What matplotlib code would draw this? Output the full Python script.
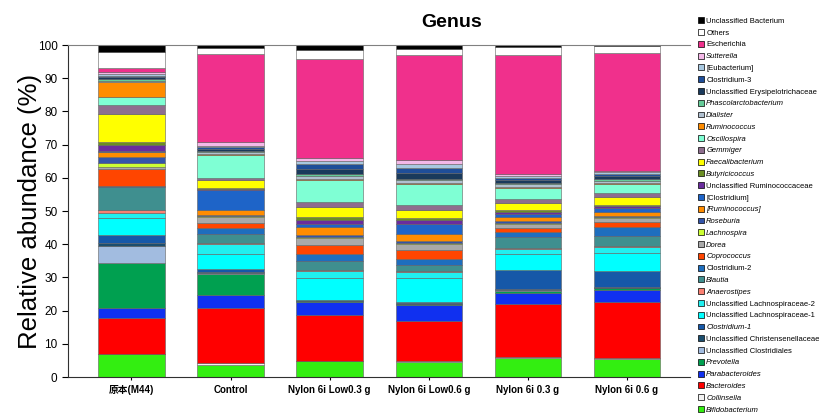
import numpy as np
import matplotlib.pyplot as plt
from matplotlib.patches import Patch

# Genres, du bas de la barre vers le haut
genres = ["Bifidobacterium", "Collinsella", "Bacteroides", "Parabacteroides", "Prevotella",
          "Unclassified Clostridiales", "Unclassified Christensenellaceae", "Clostridium-1",
          "Unclassified Lachnospiraceae-1", "Unclassified Lachnospiraceae-2", "Anaerostipes",
          "Blautia", "Clostridium-2", "Coprococcus", "Dorea", "Lachnospira", "Roseburia",
          "[Ruminococcus]", "[Clostridium]", "Unclassified Ruminococcaceae", "Butyricicoccus",
          "Faecalibacterium", "Gemmiger", "Oscillospira", "Ruminococcus", "Dialister",
          "Phascolarctobacterium", "Unclassified Erysipelotrichaceae", "Clostridium-3",
          "[Eubacterium]", "Sutterella", "Escherichia", "Others", "Unclassified Bacterium"]

couleurs = ["#33ee11", "#f2f2f2", "#ff0000", "#1030f0", "#00a050",
            "#a2bce0", "#1c4e6e", "#1658a8",
            "#00ffff", "#20f0f0", "#fa8072",
            "#3f8f8f", "#1e6ebe", "#ff4500", "#a9a9a9", "#ccff33", "#3355aa",
            "#ff8c00", "#1e64c8", "#6a2c9e", "#6b8e23",
            "#ffff00", "#8e6e8e", "#7fffd4", "#ff8c00", "#b0c0d0",
            "#66cc99", "#1a3a5c", "#1f4e99",
            "#a8c8e0", "#f4b8e8", "#f0308c", "#ffffff", "#000000"]

italiques = ["Bifidobacterium", "Collinsella", "Bacteroides", "Parabacteroides", "Prevotella",
             "Clostridium-1", "Anaerostipes", "Blautia", "Coprococcus", "Dorea", "Lachnospira",
             "Roseburia", "[Ruminococcus]", "Butyricicoccus", "Faecalibacterium", "Gemmiger",
             "Oscillospira", "Ruminococcus", "Dialister", "Phascolarctobacterium", "Sutterella"]

echantillons = ["原本(M44)", "Control", "Nylon 6i Low0.3 g", "Nylon 6i Low0.6 g",
                "Nylon 6i 0.3 g", "Nylon 6i 0.6 g"]

# Abondances relatives (%) dans l'ordre de la liste des genres
m44 = [7.0, 0.0, 10.7, 3.0, 13.7, 5.2, 0.8, 2.3, 5.3, 1.3, 1.0, 7.0, 0.2, 5.2, 0.7, 1.2, 1.8,
       1.3, 0.3, 2.0, 0.8, 8.4, 2.6, 2.6, 4.6, 0.3, 0.4, 0.8, 0.3, 0.5, 0.6, 1.1, 4.9, 2.1]
control = [3.6, 0.7, 16.6, 3.7, 6.3, 0.3, 0.5, 0.7, 4.8, 2.9, 0.2, 2.7, 1.8, 1.6, 1.7, 0.3, 0.5,
           1.5, 5.9, 0.3, 0.3, 2.4, 0.8, 6.9, 0.2, 0.5, 0.3, 0.8, 0.4, 0.4, 1.2, 26.5, 1.8, 0.9]
low03 = [4.7, 0.1, 13.8, 4.1, 0.2, 0.1, 0.1, 0.1, 6.5, 2.3, 0.2, 2.7, 2.3, 2.6, 2.0, 0.4, 0.5,
         2.4, 1.1, 1.0, 1.1, 2.9, 1.4, 6.8, 0.2, 0.9, 0.6, 1.6, 1.4, 1.0, 0.8, 29.8, 2.8, 1.5]
low06 = [4.5, 0.2, 12.3, 4.8, 0.2, 0.1, 0.2, 0.2, 7.3, 1.8, 0.2, 2.0, 1.9, 2.5, 2.0, 0.3, 0.5,
         2.2, 3.0, 1.0, 0.8, 2.2, 1.6, 6.2, 0.3, 1.0, 0.5, 1.8, 1.5, 1.2, 1.2, 31.6, 1.7, 1.2]
n03 = [5.6, 0.5, 15.9, 3.4, 0.5, 0.2, 0.3, 5.8, 5.0, 1.5, 0.2, 3.3, 1.5, 1.2, 1.2, 0.3, 0.6,
       1.3, 0.8, 0.6, 0.5, 2.1, 1.2, 3.5, 0.2, 0.8, 0.4, 1.0, 0.7, 0.6, 0.5, 35.8, 2.4, 0.6]
n06 = [5.3, 0.3, 16.9, 3.6, 0.6, 0.2, 0.3, 4.8, 5.5, 1.8, 0.2, 3.0, 2.8, 1.5, 1.0, 0.3, 0.5,
       1.2, 1.0, 0.6, 0.4, 2.3, 1.3, 2.8, 0.2, 0.7, 0.4, 1.1, 0.7, 0.5, 0.4, 35.4, 2.0, 0.4]

donnees = np.array([m44, control, low03, low06, n03, n06]).T
x = np.arange(len(echantillons))

plt.rcParams['font.family'] = ['Liberation Sans', 'Noto Sans CJK SC', 'DejaVu Sans']

fig = plt.figure(figsize=(8.19, 4.13), dpi=100)
ax = fig.add_axes([0.083, 0.087, 0.76, 0.804])

bas = np.zeros(len(echantillons))
for i in range(len(genres)):
    ax.bar(x, donnees[i], 0.67, bottom=bas, color=couleurs[i],
           edgecolor="#606060", linewidth=0.4)
    bas += donnees[i]

ax.set_xlim(-0.64, 5.64)
ax.set_ylim(0, 100)
ax.set_yticks(np.arange(0, 101, 10))
ax.set_xticks(x)
ax.set_xticklabels(echantillons, fontsize=7, fontweight="bold")
ax.tick_params(axis="y", labelsize=8.5, length=4, width=0.8)
ax.tick_params(axis="x", length=2, width=0.8)
ax.spines["right"].set_visible(False)
ax.spines["top"].set_color("#808080")
ax.spines["left"].set_color("#303030")
ax.spines["bottom"].set_color("#303030")
ax.set_ylabel("Relative abundance (%)", fontsize=18.5)
ax.yaxis.set_label_coords(-0.042, 0.5)

fig.text(0.552, 0.945, "Genus", fontsize=14, fontweight="bold", ha="center", va="center")

# Légende : du haut vers le bas, comme l'empilement
poignees = [Patch(facecolor=couleurs[i], edgecolor="black", linewidth=0.5)
            for i in range(len(genres) - 1, -1, -1)]
noms = genres[::-1]
leg = fig.legend(poignees, noms, loc="upper left", bbox_to_anchor=(0.852, 0.958),
                 frameon=False, fontsize=5.5, handlelength=0.8, handleheight=0.8,
                 handletextpad=0.3, labelspacing=0.55, borderaxespad=0, borderpad=0)
for t in leg.get_texts():
    if t.get_text() in italiques:
        t.set_style("italic")

plt.savefig("out.png", dpi=100)
